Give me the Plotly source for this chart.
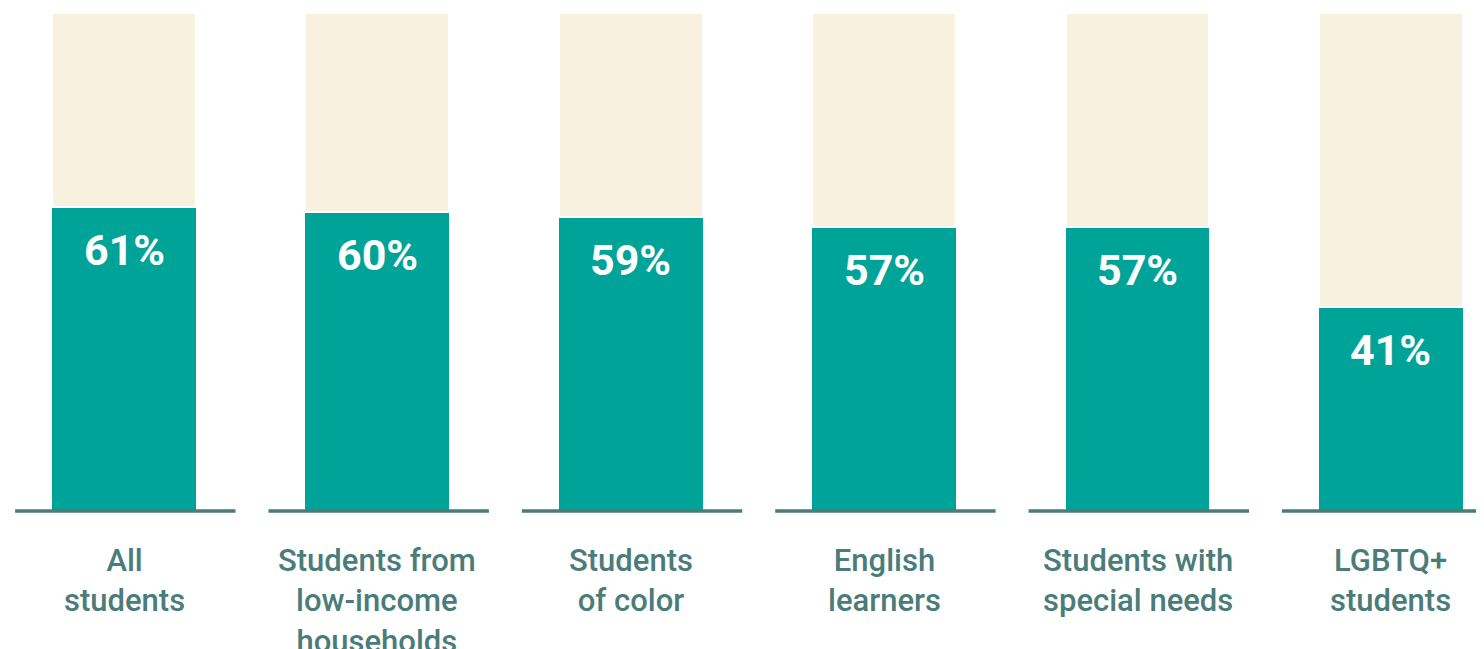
import plotly.graph_objects as go

# share of students, by group (percent)
CATEGORIES = ["All students", "Students from low-income households", "Students of color",
              "English learners", "Students with special needs", "LGBTQ+ students"]
LABELS = ["All<br>students", "Students from<br>low-income<br>households", "Students<br>of color",
          "English<br>learners", "Students with<br>special needs", "LGBTQ+<br>students"]
VALUES = [61, 60, 59, 57, 57, 41]
REST = [100 - v for v in VALUES]

TEAL = "#00a398"
CREAM = "#f8f1e0"
SLATE = "#4a7c7a"

xs = list(range(len(CATEGORIES)))

fig = go.Figure()
fig.add_trace(go.Bar(x=xs, y=VALUES, width=0.568, marker=dict(color=TEAL, line=dict(width=0)),
                     hoverinfo="skip", name="yes"))
fig.add_trace(go.Bar(x=xs, y=REST, width=0.568,
                     marker=dict(color=CREAM, line=dict(color="white", width=2.5)),
                     hoverinfo="skip", name="rest"))

for i, (v, lab) in enumerate(zip(VALUES, LABELS)):
    # percentage inside the teal part, near its top
    fig.add_annotation(x=i, y=v, text=f"<b>{v}%</b>", showarrow=False, yanchor="middle",
                       yshift=-43, font=dict(family="Roboto", size=43, color="white"))
    # category label under the baseline
    fig.add_annotation(x=i, y=0, text=lab, showarrow=False, yanchor="top", yshift=-29,
                       align="center",
                       font=dict(family="Roboto", size=31, color=SLATE, weight=500))
    # baseline segment
    fig.add_shape(type="line", x0=i - 0.43, x1=i + 0.44, y0=0, y1=0, xref="x", yref="y",
                  line=dict(color=SLATE, width=3.5), layer="above")

# the page body adds an 8px offset, so the plot is shifted to compensate
fig.update_layout(
    barmode="stack", bargap=0, showlegend=False,
    width=1484, height=649,
    paper_bgcolor="white", plot_bgcolor="white",
    margin=dict(l=0, r=0, t=5, b=144),
)
fig.update_xaxes(range=[-0.458, 5.399], visible=False)
fig.update_yaxes(range=[-0.4, 100], visible=False)

fig.write_html("out.html")
